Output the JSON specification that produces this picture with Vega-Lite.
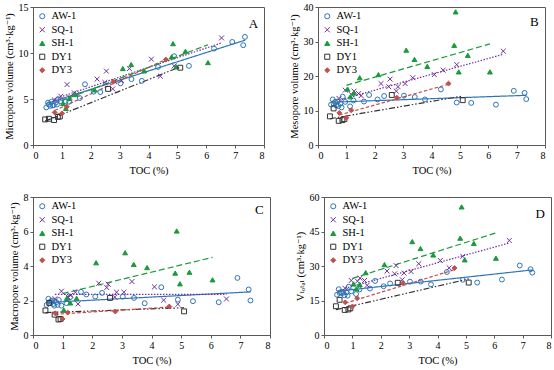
{
  "$schema": "https://vega.github.io/schema/vega-lite/v6.json",
  "padding": {"left": 3, "top": 1, "right": 0, "bottom": 0},
  "config": {
    "font": "Liberation Serif, Times New Roman, DejaVu Serif, serif",
    "view": {"stroke": "#595959", "strokeWidth": 1},
    "axis": {"labelFont": "Liberation Serif, Times New Roman, DejaVu Serif, serif", "titleFont": "Liberation Serif, Times New Roman, DejaVu Serif, serif", "labelFontSize": 10, "titleFontSize": 10.5, "titleFontWeight": "normal", "grid": false, "domainColor": "#595959", "tickColor": "#595959", "tickSize": 3, "labelColor": "black", "titleColor": "black", "labelPadding": 2},
    "axisX": {"titlePadding": 5},
    "axisY": {"titlePadding": 4},
    "legend": {"orient": "top-left", "offset": 4, "labelFont": "Liberation Serif, Times New Roman, DejaVu Serif, serif", "labelFontSize": 10.5, "labelColor": "black", "symbolSize": 26, "symbolStrokeWidth": 1, "rowPadding": 2.5, "padding": 0, "labelOffset": 4},
    "text": {"font": "Liberation Serif, Times New Roman, DejaVu Serif, serif"}
  },
  "datasets": {
    "pA": [
      {"well":"AW-1","toc":0.46,"vol":4.08},{"well":"AW-1","toc":0.52,"vol":4.6},{"well":"AW-1","toc":0.55,"vol":4.4},{"well":"AW-1","toc":0.6,"vol":4.25},{"well":"AW-1","toc":0.64,"vol":4.7},{"well":"AW-1","toc":0.68,"vol":4.3},{"well":"AW-1","toc":0.72,"vol":4.34},{"well":"AW-1","toc":0.79,"vol":4.62},{"well":"AW-1","toc":0.83,"vol":4.4},{"well":"AW-1","toc":0.87,"vol":4.99},{"well":"AW-1","toc":0.96,"vol":4.77},{"well":"AW-1","toc":1.13,"vol":4.77},{"well":"AW-1","toc":1.25,"vol":4.7},{"well":"AW-1","toc":1.62,"vol":5.1},{"well":"AW-1","toc":1.8,"vol":6.6},{"well":"AW-1","toc":2.1,"vol":5.8},{"well":"AW-1","toc":2.33,"vol":5.75},{"well":"AW-1","toc":3.03,"vol":6.7},{"well":"AW-1","toc":3.41,"vol":7.16},{"well":"AW-1","toc":3.77,"vol":6.97},{"well":"AW-1","toc":4.33,"vol":8.49},{"well":"AW-1","toc":4.89,"vol":9.65},{"well":"AW-1","toc":5.4,"vol":8.6},{"well":"AW-1","toc":6.27,"vol":10.48},{"well":"AW-1","toc":6.9,"vol":11.2},{"well":"AW-1","toc":7.28,"vol":10.85},{"well":"AW-1","toc":7.34,"vol":11.75},
      {"well":"SQ-1","toc":0.74,"vol":4.9},{"well":"SQ-1","toc":0.96,"vol":5.3},{"well":"SQ-1","toc":1.18,"vol":6.57},{"well":"SQ-1","toc":1.27,"vol":5.2},{"well":"SQ-1","toc":1.43,"vol":5.67},{"well":"SQ-1","toc":1.52,"vol":5.5},{"well":"SQ-1","toc":2.22,"vol":7.16},{"well":"SQ-1","toc":2.49,"vol":6.8},{"well":"SQ-1","toc":2.54,"vol":8.03},{"well":"SQ-1","toc":2.76,"vol":6.1},{"well":"SQ-1","toc":2.82,"vol":6.9},{"well":"SQ-1","toc":3.07,"vol":7.0},{"well":"SQ-1","toc":3.34,"vol":8.3},{"well":"SQ-1","toc":4.1,"vol":9.33},{"well":"SQ-1","toc":4.41,"vol":7.48},{"well":"SQ-1","toc":4.89,"vol":8.6},{"well":"SQ-1","toc":6.53,"vol":11.64},
      {"well":"SH-1","toc":1.04,"vol":4.52},{"well":"SH-1","toc":1.14,"vol":3.98},{"well":"SH-1","toc":1.26,"vol":5.06},{"well":"SH-1","toc":1.47,"vol":5.49},{"well":"SH-1","toc":2.13,"vol":6.0},{"well":"SH-1","toc":3.11,"vol":8.31},{"well":"SH-1","toc":3.4,"vol":8.75},{"well":"SH-1","toc":3.85,"vol":8.06},{"well":"SH-1","toc":4.8,"vol":9.58},{"well":"SH-1","toc":4.85,"vol":11.02},{"well":"SH-1","toc":4.96,"vol":8.5},{"well":"SH-1","toc":5.28,"vol":10.19},{"well":"SH-1","toc":6.06,"vol":8.96},
      {"well":"DY1","toc":0.42,"vol":2.78},{"well":"DY1","toc":0.55,"vol":2.85},{"well":"DY1","toc":0.73,"vol":2.71},{"well":"DY1","toc":0.86,"vol":3.05},{"well":"DY1","toc":0.93,"vol":3.1},{"well":"DY1","toc":2.6,"vol":6.1},{"well":"DY1","toc":5.1,"vol":8.4},
      {"well":"DY3","toc":0.75,"vol":3.54},{"well":"DY3","toc":1.0,"vol":3.43},{"well":"DY3","toc":1.17,"vol":4.15},{"well":"DY3","toc":2.78,"vol":6.87},{"well":"DY3","toc":4.6,"vol":9.29}
    ],
    "pB": [
      {"well":"AW-1","toc":0.46,"vol":11.7},{"well":"AW-1","toc":0.52,"vol":13.2},{"well":"AW-1","toc":0.55,"vol":12.0},{"well":"AW-1","toc":0.6,"vol":12.5},{"well":"AW-1","toc":0.64,"vol":11.5},{"well":"AW-1","toc":0.68,"vol":12.6},{"well":"AW-1","toc":0.72,"vol":11.3},{"well":"AW-1","toc":0.79,"vol":12.0},{"well":"AW-1","toc":0.83,"vol":10.9},{"well":"AW-1","toc":0.87,"vol":14.0},{"well":"AW-1","toc":0.96,"vol":12.5},{"well":"AW-1","toc":1.13,"vol":11.2},{"well":"AW-1","toc":1.25,"vol":12.9},{"well":"AW-1","toc":1.62,"vol":12.6},{"well":"AW-1","toc":1.8,"vol":14.5},{"well":"AW-1","toc":2.1,"vol":13.2},{"well":"AW-1","toc":2.33,"vol":14.2},{"well":"AW-1","toc":3.03,"vol":14.3},{"well":"AW-1","toc":3.41,"vol":13.9},{"well":"AW-1","toc":3.77,"vol":13.2},{"well":"AW-1","toc":4.33,"vol":16.1},{"well":"AW-1","toc":4.89,"vol":12.3},{"well":"AW-1","toc":5.4,"vol":12.2},{"well":"AW-1","toc":6.27,"vol":11.7},{"well":"AW-1","toc":6.9,"vol":15.7},{"well":"AW-1","toc":7.28,"vol":15.1},{"well":"AW-1","toc":7.34,"vol":13.3},
      {"well":"SQ-1","toc":0.74,"vol":13.5},{"well":"SQ-1","toc":0.96,"vol":15.9},{"well":"SQ-1","toc":1.18,"vol":14.6},{"well":"SQ-1","toc":1.27,"vol":15.6},{"well":"SQ-1","toc":1.43,"vol":14.9},{"well":"SQ-1","toc":1.52,"vol":14.3},{"well":"SQ-1","toc":2.22,"vol":17.8},{"well":"SQ-1","toc":2.49,"vol":16.9},{"well":"SQ-1","toc":2.54,"vol":19.1},{"well":"SQ-1","toc":2.76,"vol":15.6},{"well":"SQ-1","toc":2.82,"vol":16.9},{"well":"SQ-1","toc":3.07,"vol":17.8},{"well":"SQ-1","toc":3.34,"vol":19.5},{"well":"SQ-1","toc":4.1,"vol":20.4},{"well":"SQ-1","toc":4.41,"vol":21.7},{"well":"SQ-1","toc":4.89,"vol":23.3},{"well":"SQ-1","toc":6.53,"vol":27.2},
      {"well":"SH-1","toc":1.04,"vol":16.2},{"well":"SH-1","toc":1.14,"vol":14.0},{"well":"SH-1","toc":1.26,"vol":15.1},{"well":"SH-1","toc":1.47,"vol":19.5},{"well":"SH-1","toc":2.13,"vol":20.4},{"well":"SH-1","toc":3.11,"vol":27.5},{"well":"SH-1","toc":3.4,"vol":24.8},{"well":"SH-1","toc":3.85,"vol":22.8},{"well":"SH-1","toc":4.8,"vol":28.9},{"well":"SH-1","toc":4.85,"vol":38.6},{"well":"SH-1","toc":4.96,"vol":21.2},{"well":"SH-1","toc":5.28,"vol":26.0},{"well":"SH-1","toc":6.06,"vol":21.2},
      {"well":"DY1","toc":0.42,"vol":8.3},{"well":"DY1","toc":0.55,"vol":10.6},{"well":"DY1","toc":0.73,"vol":7.0},{"well":"DY1","toc":0.86,"vol":7.2},{"well":"DY1","toc":0.93,"vol":7.5},{"well":"DY1","toc":2.6,"vol":14.5},{"well":"DY1","toc":5.1,"vol":13.0},
      {"well":"DY3","toc":0.75,"vol":9.3},{"well":"DY3","toc":1.0,"vol":7.9},{"well":"DY3","toc":1.17,"vol":10.1},{"well":"DY3","toc":2.78,"vol":13.7},{"well":"DY3","toc":4.6,"vol":17.8}
    ],
    "pC": [
      {"well":"AW-1","toc":0.46,"vol":1.74},{"well":"AW-1","toc":0.52,"vol":2.1},{"well":"AW-1","toc":0.55,"vol":1.85},{"well":"AW-1","toc":0.6,"vol":1.95},{"well":"AW-1","toc":0.64,"vol":2.0},{"well":"AW-1","toc":0.68,"vol":1.8},{"well":"AW-1","toc":0.72,"vol":1.7},{"well":"AW-1","toc":0.79,"vol":1.9},{"well":"AW-1","toc":0.83,"vol":1.75},{"well":"AW-1","toc":0.87,"vol":2.03},{"well":"AW-1","toc":0.96,"vol":1.7},{"well":"AW-1","toc":1.13,"vol":1.85},{"well":"AW-1","toc":1.25,"vol":2.19},{"well":"AW-1","toc":1.62,"vol":2.5},{"well":"AW-1","toc":1.8,"vol":2.35},{"well":"AW-1","toc":2.1,"vol":2.23},{"well":"AW-1","toc":2.33,"vol":2.44},{"well":"AW-1","toc":3.03,"vol":2.23},{"well":"AW-1","toc":3.41,"vol":2.15},{"well":"AW-1","toc":3.77,"vol":1.84},{"well":"AW-1","toc":4.33,"vol":2.77},{"well":"AW-1","toc":4.89,"vol":2.05},{"well":"AW-1","toc":5.4,"vol":1.96},{"well":"AW-1","toc":6.27,"vol":1.9},{"well":"AW-1","toc":6.9,"vol":3.31},{"well":"AW-1","toc":7.28,"vol":2.64},{"well":"AW-1","toc":7.34,"vol":2.0},
      {"well":"SQ-1","toc":0.74,"vol":2.1},{"well":"SQ-1","toc":0.96,"vol":2.54},{"well":"SQ-1","toc":1.18,"vol":2.2},{"well":"SQ-1","toc":1.27,"vol":2.3},{"well":"SQ-1","toc":1.43,"vol":2.48},{"well":"SQ-1","toc":1.52,"vol":1.8},{"well":"SQ-1","toc":2.22,"vol":3.0},{"well":"SQ-1","toc":2.49,"vol":2.75},{"well":"SQ-1","toc":2.54,"vol":2.94},{"well":"SQ-1","toc":2.76,"vol":2.2},{"well":"SQ-1","toc":2.82,"vol":2.48},{"well":"SQ-1","toc":3.07,"vol":2.48},{"well":"SQ-1","toc":3.34,"vol":3.1},{"well":"SQ-1","toc":4.1,"vol":2.79},{"well":"SQ-1","toc":4.41,"vol":2.02},{"well":"SQ-1","toc":4.89,"vol":1.78},{"well":"SQ-1","toc":6.53,"vol":2.09},
      {"well":"SH-1","toc":1.04,"vol":1.45},{"well":"SH-1","toc":1.14,"vol":2.13},{"well":"SH-1","toc":1.26,"vol":1.86},{"well":"SH-1","toc":1.47,"vol":2.13},{"well":"SH-1","toc":2.13,"vol":4.19},{"well":"SH-1","toc":3.11,"vol":4.77},{"well":"SH-1","toc":3.4,"vol":4.09},{"well":"SH-1","toc":3.85,"vol":3.91},{"well":"SH-1","toc":4.8,"vol":3.59},{"well":"SH-1","toc":4.85,"vol":6.03},{"well":"SH-1","toc":4.96,"vol":2.97},{"well":"SH-1","toc":5.28,"vol":3.64},{"well":"SH-1","toc":6.06,"vol":3.2},
      {"well":"DY1","toc":0.42,"vol":1.42},{"well":"DY1","toc":0.55,"vol":1.86},{"well":"DY1","toc":0.73,"vol":1.18},{"well":"DY1","toc":0.86,"vol":0.9},{"well":"DY1","toc":0.93,"vol":0.93},{"well":"DY1","toc":2.6,"vol":2.15},{"well":"DY1","toc":5.1,"vol":1.37},
      {"well":"DY3","toc":0.75,"vol":1.26},{"well":"DY3","toc":1.0,"vol":0.93},{"well":"DY3","toc":1.17,"vol":1.3},{"well":"DY3","toc":2.78,"vol":1.36},{"well":"DY3","toc":4.6,"vol":1.65}
    ],
    "pD": [
      {"well":"AW-1","toc":0.46,"vol":17.5},{"well":"AW-1","toc":0.52,"vol":19.9},{"well":"AW-1","toc":0.55,"vol":18.3},{"well":"AW-1","toc":0.6,"vol":18.7},{"well":"AW-1","toc":0.64,"vol":18.2},{"well":"AW-1","toc":0.68,"vol":18.7},{"well":"AW-1","toc":0.72,"vol":17.3},{"well":"AW-1","toc":0.79,"vol":18.5},{"well":"AW-1","toc":0.83,"vol":17.1},{"well":"AW-1","toc":0.87,"vol":21.0},{"well":"AW-1","toc":0.96,"vol":19.0},{"well":"AW-1","toc":1.13,"vol":17.8},{"well":"AW-1","toc":1.25,"vol":19.8},{"well":"AW-1","toc":1.62,"vol":20.2},{"well":"AW-1","toc":1.8,"vol":23.5},{"well":"AW-1","toc":2.1,"vol":21.2},{"well":"AW-1","toc":2.33,"vol":22.4},{"well":"AW-1","toc":3.03,"vol":23.2},{"well":"AW-1","toc":3.41,"vol":23.2},{"well":"AW-1","toc":3.77,"vol":22.0},{"well":"AW-1","toc":4.33,"vol":27.4},{"well":"AW-1","toc":4.89,"vol":24.0},{"well":"AW-1","toc":5.4,"vol":22.8},{"well":"AW-1","toc":6.27,"vol":24.1},{"well":"AW-1","toc":6.9,"vol":30.2},{"well":"AW-1","toc":7.28,"vol":28.6},{"well":"AW-1","toc":7.34,"vol":27.1},
      {"well":"SQ-1","toc":0.74,"vol":20.3},{"well":"SQ-1","toc":0.96,"vol":23.7},{"well":"SQ-1","toc":1.18,"vol":23.4},{"well":"SQ-1","toc":1.27,"vol":24.7},{"well":"SQ-1","toc":1.43,"vol":23.7},{"well":"SQ-1","toc":1.52,"vol":21.6},{"well":"SQ-1","toc":2.22,"vol":27.8},{"well":"SQ-1","toc":2.49,"vol":26.6},{"well":"SQ-1","toc":2.54,"vol":30.2},{"well":"SQ-1","toc":2.76,"vol":24.0},{"well":"SQ-1","toc":2.82,"vol":26.9},{"well":"SQ-1","toc":3.07,"vol":27.6},{"well":"SQ-1","toc":3.34,"vol":31.0},{"well":"SQ-1","toc":4.1,"vol":32.4},{"well":"SQ-1","toc":4.41,"vol":29.2},{"well":"SQ-1","toc":4.89,"vol":34.2},{"well":"SQ-1","toc":6.53,"vol":41.1},
      {"well":"SH-1","toc":1.04,"vol":22.2},{"well":"SH-1","toc":1.14,"vol":20.1},{"well":"SH-1","toc":1.26,"vol":22.0},{"well":"SH-1","toc":1.47,"vol":27.1},{"well":"SH-1","toc":2.13,"vol":30.6},{"well":"SH-1","toc":3.11,"vol":40.6},{"well":"SH-1","toc":3.4,"vol":37.6},{"well":"SH-1","toc":3.85,"vol":34.8},{"well":"SH-1","toc":4.8,"vol":42.1},{"well":"SH-1","toc":4.85,"vol":55.7},{"well":"SH-1","toc":4.96,"vol":32.7},{"well":"SH-1","toc":5.28,"vol":39.8},{"well":"SH-1","toc":6.06,"vol":33.4},
      {"well":"DY1","toc":0.42,"vol":12.5},{"well":"DY1","toc":0.55,"vol":15.3},{"well":"DY1","toc":0.73,"vol":10.9},{"well":"DY1","toc":0.86,"vol":11.1},{"well":"DY1","toc":0.93,"vol":11.6},{"well":"DY1","toc":2.6,"vol":22.7},{"well":"DY1","toc":5.1,"vol":22.8},
      {"well":"DY3","toc":0.75,"vol":14.2},{"well":"DY3","toc":1.0,"vol":12.4},{"well":"DY3","toc":1.17,"vol":16.0},{"well":"DY3","toc":2.78,"vol":22.5},{"well":"DY3","toc":4.6,"vol":29.1}
    ],
    "tA": [
      {"well":"AW-1","toc":0.46,"vol":4.5},{"well":"AW-1","toc":7.35,"vol":11.4},
      {"well":"SQ-1","toc":0.74,"vol":5.0},{"well":"SQ-1","toc":6.53,"vol":11.1},
      {"well":"SH-1","toc":0.98,"vol":4.8},{"well":"SH-1","toc":6.06,"vol":10.9},
      {"well":"DY1","toc":0.42,"vol":2.6},{"well":"DY1","toc":5.1,"vol":8.5},
      {"well":"DY3","toc":0.75,"vol":3.75},{"well":"DY3","toc":4.6,"vol":9.3}
    ],
    "tB": [
      {"well":"AW-1","toc":0.46,"vol":12.4},{"well":"AW-1","toc":7.35,"vol":14.4},
      {"well":"SQ-1","toc":0.74,"vol":13.0},{"well":"SQ-1","toc":6.53,"vol":26.3},
      {"well":"SH-1","toc":1.0,"vol":17.3},{"well":"SH-1","toc":6.06,"vol":29.3},
      {"well":"DY1","toc":0.42,"vol":7.6},{"well":"DY1","toc":5.1,"vol":14.2},
      {"well":"DY3","toc":0.75,"vol":8.7},{"well":"DY3","toc":4.6,"vol":17.6}
    ],
    "tC": [
      {"well":"AW-1","toc":0.46,"vol":1.88},{"well":"AW-1","toc":7.35,"vol":2.5},
      {"well":"SQ-1","toc":0.74,"vol":2.36},{"well":"SQ-1","toc":6.53,"vol":2.36},
      {"well":"SH-1","toc":1.0,"vol":2.4},{"well":"SH-1","toc":6.06,"vol":4.5},
      {"well":"DY1","toc":0.42,"vol":1.3},{"well":"DY1","toc":5.1,"vol":1.58},
      {"well":"DY3","toc":0.75,"vol":1.2},{"well":"DY3","toc":4.6,"vol":1.62}
    ],
    "tD": [
      {"well":"AW-1","toc":0.46,"vol":19.0},{"well":"AW-1","toc":7.35,"vol":28.3},
      {"well":"SQ-1","toc":0.74,"vol":20.3},{"well":"SQ-1","toc":6.53,"vol":40.0},
      {"well":"SH-1","toc":1.0,"vol":24.6},{"well":"SH-1","toc":6.06,"vol":44.4},
      {"well":"DY1","toc":0.42,"vol":11.0},{"well":"DY1","toc":5.1,"vol":24.4},
      {"well":"DY3","toc":0.75,"vol":13.8},{"well":"DY3","toc":4.6,"vol":28.4}
    ]
  },
  "spacing": 15,
  "resolve": {"scale": {"color": "independent", "stroke": "independent", "fill": "independent", "shape": "independent", "strokeDash": "independent"}, "legend": {"color": "independent", "stroke": "independent", "fill": "independent", "shape": "independent", "strokeDash": "independent"}},
  "vconcat": [
    {
      "spacing": 23,
      "resolve": {"scale": {"color": "independent", "stroke": "independent", "fill": "independent", "shape": "independent", "strokeDash": "independent"}, "legend": {"color": "independent", "stroke": "independent", "fill": "independent", "shape": "independent", "strokeDash": "independent"}},
      "hconcat": [
        {
          "width": 231, "height": 138,
          "layer": [
            {"data": {"name": "tA"}, "mark": {"type": "line", "strokeWidth": 1.2},
             "encoding": {
               "x": {"field": "toc", "type": "quantitative", "scale": {"domain": [0, 8], "nice": false}, "axis": {"title": "TOC (%)", "values": [0,1,2,3,4,5,6,7,8]}},
               "y": {"field": "vol", "type": "quantitative", "scale": {"domain": [0, 15], "nice": false}, "axis": {"title": "Micropore volume (cm³·kg⁻¹)", "values": [0,5,10,15]}},
               "color": {"field": "well", "type": "nominal", "scale": {"domain": ["DY3","DY1","SH-1","SQ-1","AW-1"], "range": ["#C0504D","#333333","#1A9A3C","#7030A0","#2E75B6"]}, "legend": null},
               "strokeDash": {"field": "well", "type": "nominal", "scale": {"domain": ["DY3","DY1","SH-1","SQ-1","AW-1"], "range": [[3.5,2],[6,2,1.5,2,1.5,2],[6,3],[1.5,1.5],[1,0]]}, "legend": null}}},
            {"data": {"name": "pA"}, "mark": {"type": "point", "size": 24, "strokeWidth": 1, "opacity": 1},
             "encoding": {
               "x": {"field": "toc", "type": "quantitative", "scale": {"domain": [0, 8], "nice": false}, "axis": {"title": "TOC (%)", "values": [0,1,2,3,4,5,6,7,8]}},
               "y": {"field": "vol", "type": "quantitative", "scale": {"domain": [0, 15], "nice": false}, "axis": {"title": "Micropore volume (cm³·kg⁻¹)", "values": [0,5,10,15]}},
               "stroke": {"field": "well", "type": "nominal", "scale": {"domain": ["AW-1","SQ-1","SH-1","DY1","DY3"], "range": ["#2E75B6","#7030A0","#1A9A3C","#333333","#C0504D"]}, "legend": {"title": null}},
               "fill": {"field": "well", "type": "nominal", "scale": {"domain": ["AW-1","SQ-1","SH-1","DY1","DY3"], "range": ["transparent","transparent","#1A9A3C","transparent","#C0504D"]}, "legend": {"title": null}},
               "shape": {"field": "well", "type": "nominal", "scale": {"domain": ["AW-1","SQ-1","SH-1","DY1","DY3"], "range": ["circle","M-1,-1L1,1M-1,1L1,-1","triangle-up","square","diamond"]}, "legend": {"title": null}}}},
            {"data": {"values": [{"label": "A"}]}, "mark": {"type": "text", "fontSize": 13, "color": "black"},
             "encoding": {
               "x": {"datum": 7.63, "type": "quantitative", "scale": {"domain": [0, 8], "nice": false}, "axis": {"title": "TOC (%)", "values": [0,1,2,3,4,5,6,7,8]}},
               "y": {"datum": 13.2, "type": "quantitative", "scale": {"domain": [0, 15], "nice": false}, "axis": {"title": "Micropore volume (cm³·kg⁻¹)", "values": [0,5,10,15]}},
               "text": {"field": "label"}}}
          ]
        },
        {
          "width": 227, "height": 138,
          "layer": [
            {"data": {"name": "tB"}, "mark": {"type": "line", "strokeWidth": 1.2},
             "encoding": {
               "x": {"field": "toc", "type": "quantitative", "scale": {"domain": [0, 8], "nice": false}, "axis": {"title": "TOC (%)", "values": [0,1,2,3,4,5,6,7,8]}},
               "y": {"field": "vol", "type": "quantitative", "scale": {"domain": [0, 40], "nice": false}, "axis": {"title": "Mesopore volume (cm³·kg⁻¹)", "values": [0,10,20,30,40]}},
               "color": {"field": "well", "type": "nominal", "scale": {"domain": ["DY3","DY1","SH-1","SQ-1","AW-1"], "range": ["#C0504D","#333333","#1A9A3C","#7030A0","#2E75B6"]}, "legend": null},
               "strokeDash": {"field": "well", "type": "nominal", "scale": {"domain": ["DY3","DY1","SH-1","SQ-1","AW-1"], "range": [[3.5,2],[6,2,1.5,2,1.5,2],[6,3],[1.5,1.5],[1,0]]}, "legend": null}}},
            {"data": {"name": "pB"}, "mark": {"type": "point", "size": 24, "strokeWidth": 1, "opacity": 1},
             "encoding": {
               "x": {"field": "toc", "type": "quantitative", "scale": {"domain": [0, 8], "nice": false}, "axis": {"title": "TOC (%)", "values": [0,1,2,3,4,5,6,7,8]}},
               "y": {"field": "vol", "type": "quantitative", "scale": {"domain": [0, 40], "nice": false}, "axis": {"title": "Mesopore volume (cm³·kg⁻¹)", "values": [0,10,20,30,40]}},
               "stroke": {"field": "well", "type": "nominal", "scale": {"domain": ["AW-1","SQ-1","SH-1","DY1","DY3"], "range": ["#2E75B6","#7030A0","#1A9A3C","#333333","#C0504D"]}, "legend": {"title": null}},
               "fill": {"field": "well", "type": "nominal", "scale": {"domain": ["AW-1","SQ-1","SH-1","DY1","DY3"], "range": ["transparent","transparent","#1A9A3C","transparent","#C0504D"]}, "legend": {"title": null}},
               "shape": {"field": "well", "type": "nominal", "scale": {"domain": ["AW-1","SQ-1","SH-1","DY1","DY3"], "range": ["circle","M-1,-1L1,1M-1,1L1,-1","triangle-up","square","diamond"]}, "legend": {"title": null}}}},
            {"data": {"values": [{"label": "B"}]}, "mark": {"type": "text", "fontSize": 13, "color": "black"},
             "encoding": {
               "x": {"datum": 7.62, "type": "quantitative", "scale": {"domain": [0, 8], "nice": false}, "axis": {"title": "TOC (%)", "values": [0,1,2,3,4,5,6,7,8]}},
               "y": {"datum": 35.7, "type": "quantitative", "scale": {"domain": [0, 40], "nice": false}, "axis": {"title": "Mesopore volume (cm³·kg⁻¹)", "values": [0,10,20,30,40]}},
               "text": {"field": "label"}}}
          ]
        }
      ]
    },
    {
      "spacing": 23,
      "resolve": {"scale": {"color": "independent", "stroke": "independent", "fill": "independent", "shape": "independent", "strokeDash": "independent"}, "legend": {"color": "independent", "stroke": "independent", "fill": "independent", "shape": "independent", "strokeDash": "independent"}},
      "hconcat": [
        {
          "width": 237, "height": 138,
          "layer": [
            {"data": {"name": "tC"}, "mark": {"type": "line", "strokeWidth": 1.2},
             "encoding": {
               "x": {"field": "toc", "type": "quantitative", "scale": {"domain": [0, 8], "nice": false}, "axis": {"title": "TOC (%)", "values": [0,1,2,3,4,5,6,7,8]}},
               "y": {"field": "vol", "type": "quantitative", "scale": {"domain": [0, 8], "nice": false}, "axis": {"title": "Macropore volume (cm³·kg⁻¹)", "values": [0,2,4,6,8]}},
               "color": {"field": "well", "type": "nominal", "scale": {"domain": ["DY3","DY1","SH-1","SQ-1","AW-1"], "range": ["#C0504D","#333333","#1A9A3C","#7030A0","#2E75B6"]}, "legend": null},
               "strokeDash": {"field": "well", "type": "nominal", "scale": {"domain": ["DY3","DY1","SH-1","SQ-1","AW-1"], "range": [[3.5,2],[6,2,1.5,2,1.5,2],[6,3],[1.5,1.5],[1,0]]}, "legend": null}}},
            {"data": {"name": "pC"}, "mark": {"type": "point", "size": 24, "strokeWidth": 1, "opacity": 1},
             "encoding": {
               "x": {"field": "toc", "type": "quantitative", "scale": {"domain": [0, 8], "nice": false}, "axis": {"title": "TOC (%)", "values": [0,1,2,3,4,5,6,7,8]}},
               "y": {"field": "vol", "type": "quantitative", "scale": {"domain": [0, 8], "nice": false}, "axis": {"title": "Macropore volume (cm³·kg⁻¹)", "values": [0,2,4,6,8]}},
               "stroke": {"field": "well", "type": "nominal", "scale": {"domain": ["AW-1","SQ-1","SH-1","DY1","DY3"], "range": ["#2E75B6","#7030A0","#1A9A3C","#333333","#C0504D"]}, "legend": {"title": null}},
               "fill": {"field": "well", "type": "nominal", "scale": {"domain": ["AW-1","SQ-1","SH-1","DY1","DY3"], "range": ["transparent","transparent","#1A9A3C","transparent","#C0504D"]}, "legend": {"title": null}},
               "shape": {"field": "well", "type": "nominal", "scale": {"domain": ["AW-1","SQ-1","SH-1","DY1","DY3"], "range": ["circle","M-1,-1L1,1M-1,1L1,-1","triangle-up","square","diamond"]}, "legend": {"title": null}}}},
            {"data": {"values": [{"label": "C"}]}, "mark": {"type": "text", "fontSize": 13, "color": "black"},
             "encoding": {
               "x": {"datum": 7.64, "type": "quantitative", "scale": {"domain": [0, 8], "nice": false}, "axis": {"title": "TOC (%)", "values": [0,1,2,3,4,5,6,7,8]}},
               "y": {"datum": 7.27, "type": "quantitative", "scale": {"domain": [0, 8], "nice": false}, "axis": {"title": "Macropore volume (cm³·kg⁻¹)", "values": [0,2,4,6,8]}},
               "text": {"field": "label"}}}
          ]
        },
        {
          "width": 227, "height": 138,
          "layer": [
            {"data": {"name": "tD"}, "mark": {"type": "line", "strokeWidth": 1.2},
             "encoding": {
               "x": {"field": "toc", "type": "quantitative", "scale": {"domain": [0, 8], "nice": false}, "axis": {"title": "TOC (%)", "values": [0,1,2,3,4,5,6,7,8]}},
               "y": {"field": "vol", "type": "quantitative", "scale": {"domain": [0, 60], "nice": false}, "axis": {"title": "Vₜₒₜₐₗ (cm³·kg⁻¹)", "values": [0,15,30,45,60]}},
               "color": {"field": "well", "type": "nominal", "scale": {"domain": ["DY3","DY1","SH-1","SQ-1","AW-1"], "range": ["#C0504D","#333333","#1A9A3C","#7030A0","#2E75B6"]}, "legend": null},
               "strokeDash": {"field": "well", "type": "nominal", "scale": {"domain": ["DY3","DY1","SH-1","SQ-1","AW-1"], "range": [[3.5,2],[6,2,1.5,2,1.5,2],[6,3],[1.5,1.5],[1,0]]}, "legend": null}}},
            {"data": {"name": "pD"}, "mark": {"type": "point", "size": 24, "strokeWidth": 1, "opacity": 1},
             "encoding": {
               "x": {"field": "toc", "type": "quantitative", "scale": {"domain": [0, 8], "nice": false}, "axis": {"title": "TOC (%)", "values": [0,1,2,3,4,5,6,7,8]}},
               "y": {"field": "vol", "type": "quantitative", "scale": {"domain": [0, 60], "nice": false}, "axis": {"title": "Vₜₒₜₐₗ (cm³·kg⁻¹)", "values": [0,15,30,45,60]}},
               "stroke": {"field": "well", "type": "nominal", "scale": {"domain": ["AW-1","SQ-1","SH-1","DY1","DY3"], "range": ["#2E75B6","#7030A0","#1A9A3C","#333333","#C0504D"]}, "legend": {"title": null}},
               "fill": {"field": "well", "type": "nominal", "scale": {"domain": ["AW-1","SQ-1","SH-1","DY1","DY3"], "range": ["transparent","transparent","#1A9A3C","transparent","#C0504D"]}, "legend": {"title": null}},
               "shape": {"field": "well", "type": "nominal", "scale": {"domain": ["AW-1","SQ-1","SH-1","DY1","DY3"], "range": ["circle","M-1,-1L1,1M-1,1L1,-1","triangle-up","square","diamond"]}, "legend": {"title": null}}}},
            {"data": {"values": [{"label": "D"}]}, "mark": {"type": "text", "fontSize": 13, "color": "black"},
             "encoding": {
               "x": {"datum": 7.62, "type": "quantitative", "scale": {"domain": [0, 8], "nice": false}, "axis": {"title": "TOC (%)", "values": [0,1,2,3,4,5,6,7,8]}},
               "y": {"datum": 52.7, "type": "quantitative", "scale": {"domain": [0, 60], "nice": false}, "axis": {"title": "Vₜₒₜₐₗ (cm³·kg⁻¹)", "values": [0,15,30,45,60]}},
               "text": {"field": "label"}}}
          ]
        }
      ]
    }
  ]
}
